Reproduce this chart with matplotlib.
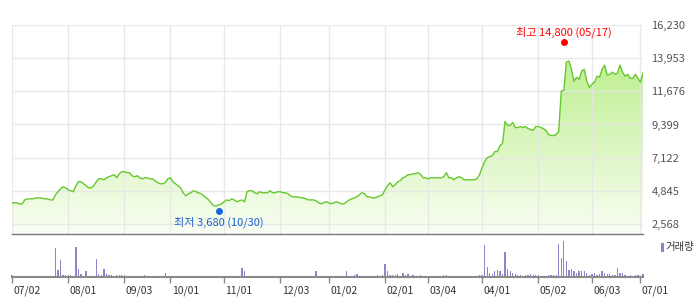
import matplotlib
matplotlib.use('Agg')
import matplotlib.pyplot as plt
import matplotlib.transforms as mtransforms
from matplotlib.colors import LinearSegmentedColormap
from matplotlib.patches import Polygon, Rectangle
import numpy as np

plt.rcParams['font.family'] = ['Noto Sans CJK KR', 'DejaVu Sans']

# ---------------- data ----------------
close = [
    4020, 4020, 4020, 3950, 3950,
    4220, 4290, 4290, 4290, 4330,
    4360, 4360, 4330, 4290, 4290, 4220, 4220,
    4570, 4780, 4980, 5120, 5050, 4910, 4850, 4780,
    5190, 5470, 5470, 5330, 5190, 5050, 5050, 5190,
    5470, 5670, 5670, 5600, 5740, 5810, 5880, 5950,
    5740, 6020, 6160, 6160, 6090, 6090,
    5880, 5810, 5880, 5740, 5670, 5740, 5740, 5670, 5670,
    5540, 5400, 5330, 5330, 5400, 5670, 5740,
    5470, 5330, 5190, 5050, 4710, 4500, 4640, 4710,
    4850, 4780, 4710, 4640, 4500, 4360, 4220,
    4020, 3810, 3810, 3880, 3950, 4090, 4220,
    4160, 4290, 4220, 4090, 4160, 4220, 4090,
    4780, 4850, 4850, 4710, 4640, 4780, 4710, 4710, 4710,
    4850, 4710, 4710, 4780, 4780, 4710, 4710, 4640,
    4500, 4430, 4430, 4430, 4360, 4360, 4290, 4220, 4220, 4220,
    4160, 4020, 3950, 4020, 4090, 4020, 3950, 4020, 4090, 4020, 3950, 3950, 4090,
    4220, 4290, 4360, 4430, 4570, 4710, 4640, 4430, 4430, 4360, 4360, 4430, 4500, 4570,
    4910, 5190, 5400, 5120, 5260, 5470, 5540,
    5740, 5810, 5950, 5950, 6020, 6020, 6090, 5950,
    5740, 5740, 5670, 5740, 5740, 5740, 5740, 5740, 5810,
    6090, 5740, 5740, 5600, 5740, 5810, 5740, 5600, 5600, 5600, 5600, 5600, 5670,
    5950, 6430, 6850, 7120, 7190, 7260, 7540, 7540, 7950, 8090,
    9610, 9330, 9330, 9540, 9190, 9190, 9260, 9190, 9260, 9120, 9050, 8990,
    9260, 9260, 9190, 9120, 8990, 8710, 8640, 8640, 8710, 8920,
    11680, 11750, 13680, 13750, 13190, 12370, 12640, 12500, 13060, 13190,
    12370, 11950, 12160, 12300, 12710, 12640, 13190, 13470, 12780, 12850,
    12990, 12850, 12920, 13470, 12990, 12710, 12850, 12570, 12570, 12850, 12570, 12300, 12920,
]

# volume (thousand shares) on the days that show a bar
vol_days = [
    0, 17, 18, 19, 20, 21, 22, 23, 25, 26, 27, 28, 29, 30, 31, 32, 33, 34, 35, 36,
    37, 38, 39, 40, 41, 42, 43, 44, 45, 46, 47, 48, 52, 54, 56, 57, 60, 61, 62, 63,
    64, 66, 67, 70, 71, 76, 77, 78, 79, 80, 87, 90, 91, 93, 94, 96, 97, 98, 99, 101,
    103, 119, 121,
    131, 134, 135, 136, 137, 138, 139, 142, 143, 144, 145, 146, 147, 148, 149, 150,
    151, 152, 153, 154, 155, 156, 157, 158, 159, 160, 161, 163, 165, 168, 169, 170,
    171, 172, 173, 174, 175, 176,
    182, 183, 184, 185, 186, 187, 188, 189, 190, 191, 192, 193, 194, 195, 196, 197,
    198, 199, 200, 201, 202, 203, 204, 205, 206, 207, 208, 209, 210, 211, 212, 213,
    214, 215, 216, 217, 218, 219, 220, 221, 222, 223, 224, 225, 226, 227, 228, 229,
    230, 231, 232, 233, 234, 235, 236, 237, 238, 239, 240, 241, 242, 243, 244, 245,
    246, 247,
]
vol_values = [
    170, 2930, 730, 1730, 230, 230, 170, 170, 3030, 830, 330, 100, 630, 100, 100, 100, 1830, 330, 230, 830,
    330, 230, 170, 100, 170, 230, 230, 170, 100, 100, 100, 100, 230, 100, 100, 100, 430, 100, 100, 100,
    100, 100, 100, 100, 100, 100, 100, 100, 100, 100, 100, 930, 630, 100, 100, 100, 100, 100, 100, 100,
    100, 630, 100,
    570, 170, 330, 100, 100, 100, 100, 100, 230, 100, 230, 1330, 570, 170, 230, 230,
    330, 100, 430, 230, 330, 100, 230, 100, 100, 230, 100, 100, 100, 100, 230, 230,
    100, 100, 100, 100, 100, 100,
    100, 230, 230, 3230, 1030, 430, 330, 570, 730, 630, 330, 2530, 830, 570, 430, 330,
    230, 230, 100, 230, 170, 330, 230, 230, 230, 100, 100, 100, 230, 170, 170, 230,
    3330, 1930, 3630, 1630, 730, 830, 630, 430, 630, 570, 570, 430, 230, 330, 430, 230,
    330, 570, 430, 330, 330, 230, 230, 930, 430, 430, 230, 100, 230, 100, 230, 230,
    100, 330,
]

tick_idx = [0, 22, 44, 62, 83, 105, 124, 146, 163, 184, 206, 227, 246]
tick_labels = ['07/02', '08/01', '09/03', '10/01', '11/01', '12/03', '01/02',
               '02/01', '03/04', '04/01', '05/02', '06/03', '07/01']
price_ticks = [2568, 4845, 7122, 9399, 11676, 13953, 16230]

hi_idx, hi_val, hi_label = 216, 14800, '최고 14,800 (05/17)'
lo_idx, lo_val, lo_label = 81, 3680, '최저 3,680 (10/30)'

# ---------------- figure ----------------
W, H = 698, 301
fig = plt.figure(figsize=(W / 100, H / 100), dpi=100)


def rect(l, t, r, b):
    return [l / W, 1 - b / H, (r - l) / W, (b - t) / H]


ax = fig.add_axes(rect(12, 25, 643, 234))
axv = fig.add_axes(rect(12, 237, 643, 277))

n = len(close)
x = np.arange(n)
ymin, ymax = 1878, 16230

ax.set_xlim(0, n - 1)
ax.set_ylim(ymin, ymax)

# gradient fill under the line
verts = [(0, ymin)] + list(zip(x, close)) + [(n - 1, ymin)]
poly = Polygon(verts, closed=True, facecolor='none', edgecolor='none', transform=ax.transData)
ax.add_patch(poly)
cmap = LinearSegmentedColormap.from_list('g', ['#f9fef4', '#b3ec7c'])
grad = np.linspace(0, 1, 256).reshape(-1, 1)
im = ax.imshow(grad, extent=[0, n - 1, ymin, ymax], origin='lower', aspect='auto',
               cmap=cmap, zorder=0.2, interpolation='bilinear')
im.set_clip_path(poly)

ax.plot(x, close, color='#66c92e', lw=1.0, zorder=2)

# grid
ax.set_xticks(tick_idx)
ax.set_yticks(price_ticks)
ax.set_axisbelow(True)
ax.grid(True, color='#e6e6e6', lw=1.0, alpha=0.85)
ax.tick_params(axis='x', length=0, labelbottom=False)
ax.yaxis.tick_right()
ax.set_yticklabels([f'{v:,}' for v in price_ticks])
ax.tick_params(axis='y', length=0, pad=6, labelsize=8, labelcolor='#555555')
for s in ['top', 'left', 'right']:
    ax.spines[s].set_visible(False)
ax.spines['bottom'].set_color('#7a7a7a')
ax.spines['bottom'].set_linewidth(1.0)

# high / low markers
up = mtransforms.ScaledTranslation(0, 3.5 / 100, fig.dpi_scale_trans)
down = mtransforms.ScaledTranslation(0, -3 / 100, fig.dpi_scale_trans)
ax.plot([hi_idx], [hi_val], 'o', color='#ff0000', ms=5, mec='none',
        transform=ax.transData + up, zorder=5, clip_on=False)
ax.annotate(hi_label, xy=(hi_idx, hi_val), xytext=(0, 10), textcoords='offset points',
            ha='center', va='center', color='#ff0000', fontsize=8, annotation_clip=False)
ax.plot([lo_idx], [lo_val], 'o', color='#1a66dd', ms=5, mec='none',
        transform=ax.transData + down, zorder=5, clip_on=False)
ax.annotate(lo_label, xy=(lo_idx, lo_val), xytext=(0, -10.3), textcoords='offset points',
            ha='center', va='center', color='#1f5fcf', fontsize=8, annotation_clip=False)

# volume panel
axv.bar(vol_days, vol_values, width=0.5, color='#9580cc', clip_on=False)
axv.set_xlim(0, n - 1)
axv.set_ylim(0, 4000)
axv.set_yticks([])
axv.set_xticks(tick_idx)
axv.set_xticklabels(tick_labels)
axv.tick_params(axis='x', length=4, width=1, color='#8a8a8a', labelsize=7.5,
                labelcolor='#333333', pad=2)
shift = mtransforms.ScaledTranslation(1.5 / 100, 0, fig.dpi_scale_trans)
for lbl in axv.get_xticklabels():
    lbl.set_horizontalalignment('left')
    lbl.set_transform(lbl.get_transform() + shift)
for s in ['top', 'left', 'right']:
    axv.spines[s].set_visible(False)
axv.spines['bottom'].set_color('#8a8a8a')
axv.spines['bottom'].set_linewidth(1.5)

# legend
fig.patches.append(Rectangle((661 / W, 1 - 252 / H), 3 / W, 9 / H, transform=fig.transFigure,
                             facecolor='#9580cc', edgecolor='none'))
fig.text(665.5 / W, 1 - 247 / H, '거래량', ha='left', va='center', fontsize=7.5, color='#333333')

fig.savefig('out.png', dpi=100)
